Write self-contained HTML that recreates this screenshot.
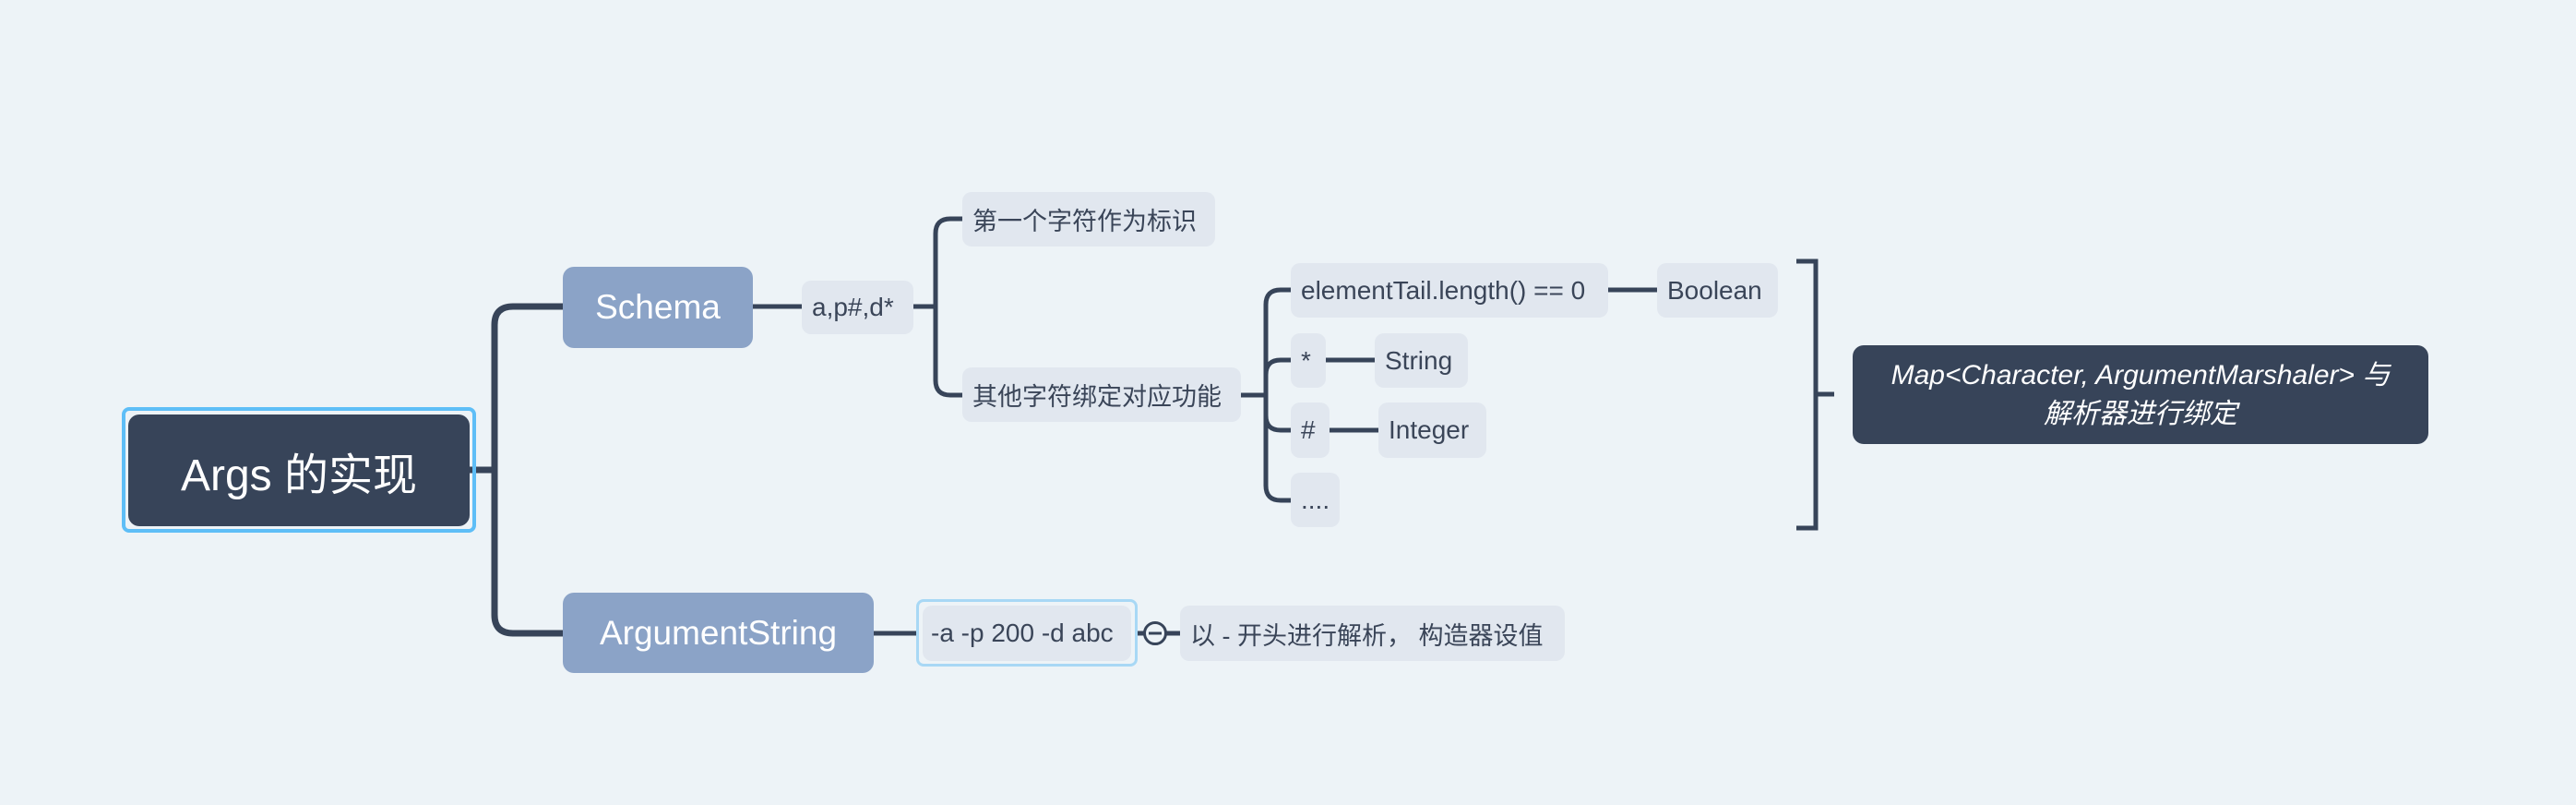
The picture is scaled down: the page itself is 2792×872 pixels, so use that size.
<!DOCTYPE html>
<html><head><meta charset="utf-8"><style>
html,body{margin:0;padding:0}
body{width:2792px;height:872px;background:#edf3f7;position:relative;overflow:hidden;font-family:"Liberation Sans","Noto Sans CJK SC",sans-serif}
.n{position:absolute;display:flex;align-items:center;justify-content:flex-start;padding-left:11px;box-sizing:border-box;border-radius:10px;background:#e1e7ef;color:#3a4558;font-size:28px;white-space:nowrap}
.c{font-size:27px}
.b{background:#8ba3c7;color:#fff;font-size:37px;border-radius:12px;justify-content:center;padding:0}
svg{position:absolute;left:0;top:0}
</style></head><body>
<svg width="2792" height="872" fill="none" stroke="#374459" stroke-linecap="butt">
<g stroke-width="7">
<path d="M509 509 H536"/>
<path d="M610 332 H556 Q536 332 536 352 V666 Q536 686 556 686 H610"/>
</g>
<g stroke-width="5">
<path d="M816 332 H869"/>
<path d="M990 332 H1014"/>
<path d="M1043 237 H1030 Q1014 237 1014 253 V412 Q1014 428 1030 428 H1043"/>
<path d="M1345 428 H1372"/>
<path d="M1399 314 H1388 Q1372 314 1372 330 V526 Q1372 542 1388 542 H1399"/>
<path d="M1372 406 Q1372 390 1388 390 H1399"/>
<path d="M1372 450 Q1372 466 1388 466 H1399"/>
<path d="M1743 314 H1796"/>
<path d="M1437 390 H1490"/>
<path d="M1441 466 H1494"/>
<path d="M947 686 H995"/>
<path d="M1231 686 H1240 M1264 686 H1279"/>
<path d="M1947 283 H1968 V572 H1947 M1968 427 H1988"/>
</g>
<circle cx="1252" cy="686" r="11.5" stroke-width="3"/>
<path d="M1245 686 H1259" stroke-width="3"/>
</svg>
<div style="position:absolute;left:132px;top:441px;width:384px;height:136px;border:4px solid #5ebef7;border-radius:8px;box-sizing:border-box"></div>
<div class="n" style="left:139px;top:449px;width:370px;height:121px;background:#374459;color:#fff;font-size:48px;border-radius:12px;justify-content:center;padding:0">Args 的实现</div>
<div class="n b" style="left:610px;top:289px;width:206px;height:88px">Schema</div>
<div class="n b" style="left:610px;top:642px;width:337px;height:87px">ArgumentString</div>
<div class="n" style="left:869px;top:304px;width:121px;height:58px">a,p#,d*</div>
<div class="n c" style="left:1043px;top:208px;width:274px;height:59px">第一个字符作为标识</div>
<div class="n c" style="left:1043px;top:398px;width:302px;height:59px">其他字符绑定对应功能</div>
<div class="n" style="left:1399px;top:285px;width:344px;height:59px">elementTail.length() == 0</div>
<div class="n" style="left:1796px;top:285px;width:131px;height:59px">Boolean</div>
<div class="n" style="left:1399px;top:361px;width:38px;height:59px">*</div>
<div class="n" style="left:1490px;top:361px;width:101px;height:59px">String</div>
<div class="n" style="left:1399px;top:436px;width:42px;height:60px">#</div>
<div class="n" style="left:1494px;top:436px;width:117px;height:60px">Integer</div>
<div class="n" style="left:1399px;top:512px;width:53px;height:59px">....</div>
<div style="position:absolute;left:993px;top:649px;width:240px;height:73px;border:3px solid #a8d8f5;border-radius:8px;box-sizing:border-box"></div>
<div class="n" style="left:1000px;top:656px;width:226px;height:60px;padding-left:9px">-a -p 200 -d abc</div>
<div class="n c" style="left:1279px;top:656px;width:417px;height:60px">以 - 开头进行解析， 构造器设值</div>
<div class="n" style="left:2008px;top:374px;width:624px;height:107px;background:#374459;color:#fff;font-style:italic;font-size:30px;white-space:normal;text-align:center;justify-content:center;line-height:42px;padding:0 10px;border-radius:12px">Map&lt;Character, ArgumentMarshaler&gt; 与<br>解析器进行绑定</div>
</body></html>
